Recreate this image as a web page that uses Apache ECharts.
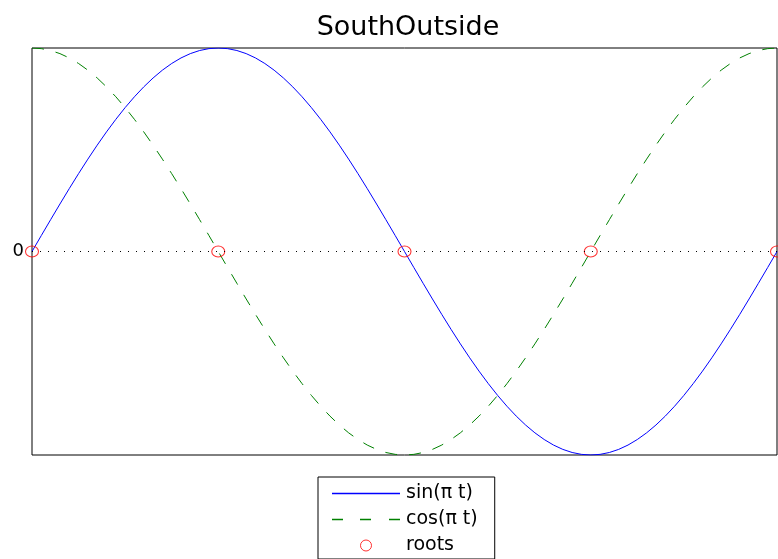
<!DOCTYPE html>
<html>
<head>
<meta charset="utf-8">
<script src="https://cdn.jsdelivr.net/npm/echarts@6/dist/echarts.min.js"></script>
<style>
html,body{margin:0;padding:0;background:#fff;}
#chart{width:778px;height:559px;}
</style>
</head>
<body>
<div id="chart"></div>
<script>
var titleText = 'SouthOutside';
var seriesNames = ['sin(\u03c0 t)', 'cos(\u03c0 t)', 'roots'];

var tVals = [0,0.025,0.05,0.075,0.1,0.125,0.15,0.175,0.2,0.225,0.25,0.275,0.3,0.325,0.35,0.375,0.4,0.425,0.45,0.475,
  0.5,0.525,0.55,0.575,0.6,0.625,0.65,0.675,0.7,0.725,0.75,0.775,0.8,0.825,0.85,0.875,0.9,0.925,0.95,0.975,
  1,1.025,1.05,1.075,1.1,1.125,1.15,1.175,1.2,1.225,1.25,1.275,1.3,1.325,1.35,1.375,1.4,1.425,1.45,1.475,
  1.5,1.525,1.55,1.575,1.6,1.625,1.65,1.675,1.7,1.725,1.75,1.775,1.8,1.825,1.85,1.875,1.9,1.925,1.95,1.975,2];

var sinVals = [0,0.0785,0.1564,0.2334,0.3090,0.3827,0.4540,0.5225,0.5878,0.6494,0.7071,0.7604,0.8090,0.8526,0.8910,0.9239,0.9511,0.9724,0.9877,0.9969,
  1,0.9969,0.9877,0.9724,0.9511,0.9239,0.8910,0.8526,0.8090,0.7604,0.7071,0.6494,0.5878,0.5225,0.4540,0.3827,0.3090,0.2334,0.1564,0.0785,
  0,-0.0785,-0.1564,-0.2334,-0.3090,-0.3827,-0.4540,-0.5225,-0.5878,-0.6494,-0.7071,-0.7604,-0.8090,-0.8526,-0.8910,-0.9239,-0.9511,-0.9724,-0.9877,-0.9969,
  -1,-0.9969,-0.9877,-0.9724,-0.9511,-0.9239,-0.8910,-0.8526,-0.8090,-0.7604,-0.7071,-0.6494,-0.5878,-0.5225,-0.4540,-0.3827,-0.3090,-0.2334,-0.1564,-0.0785,0];

var cosVals = [1,0.9969,0.9877,0.9724,0.9511,0.9239,0.8910,0.8526,0.8090,0.7604,0.7071,0.6494,0.5878,0.5225,0.4540,0.3827,0.3090,0.2334,0.1564,0.0785,
  0,-0.0785,-0.1564,-0.2334,-0.3090,-0.3827,-0.4540,-0.5225,-0.5878,-0.6494,-0.7071,-0.7604,-0.8090,-0.8526,-0.8910,-0.9239,-0.9511,-0.9724,-0.9877,-0.9969,
  -1,-0.9969,-0.9877,-0.9724,-0.9511,-0.9239,-0.8910,-0.8526,-0.8090,-0.7604,-0.7071,-0.6494,-0.5878,-0.5225,-0.4540,-0.3827,-0.3090,-0.2334,-0.1564,-0.0785,
  0,0.0785,0.1564,0.2334,0.3090,0.3827,0.4540,0.5225,0.5878,0.6494,0.7071,0.7604,0.8090,0.8526,0.8910,0.9239,0.9511,0.9724,0.9877,0.9969,1];

var rootT = [0, 0.5, 1, 1.5, 2];
var rootY = [0, 0, 0, 0, 0];

var yTickLabels = ['', '0', ''];

function pairs(xs, ys) { return xs.map(function (x, i) { return [x, ys[i]]; }); }

var SIN_COLOR = '#0000ff', COS_COLOR = '#008000', ROOT_COLOR = '#ff0000';
var COS_DASH = [12, 12];
// legend sample icons (solid and dashed strokes)
var ICON_SOLID = 'path://M0,0h68v1.5h-68z';
var ICON_DASHED = 'path://M0,0h11v1.5h-11z M28,0h11v1.5h-11z M57,0h11v1.5h-11z';

var chart = echarts.init(document.getElementById('chart'), null, { renderer: 'canvas' });
var FONT = 'DejaVu Sans';
chart.setOption({
  animation: false,
  backgroundColor: '#ffffff',
  title: {
    text: titleText,
    left: 403,
    textAlign: 'center',
    top: 9,
    textStyle: { fontFamily: FONT, fontSize: 27, fontWeight: 'normal', color: '#000' }
  },
  grid: {
    left: 32, right: 1, top: 48, bottom: 104,
    show: true, borderColor: '#000', borderWidth: 1, backgroundColor: 'transparent'
  },
  legend: {
    orient: 'vertical',
    left: 318, top: 477,
    padding: [7, 17, 4, 14],
    itemGap: 7,
    itemWidth: 68,
    itemHeight: 11,
    borderColor: '#000', borderWidth: 1,
    backgroundColor: '#fff',
    selectedMode: false,
    data: [
      { name: seriesNames[0], icon: ICON_SOLID, itemStyle: { color: SIN_COLOR, borderWidth: 0, opacity: 1 } },
      { name: seriesNames[1], icon: ICON_DASHED, itemStyle: { color: COS_COLOR, borderWidth: 0, opacity: 1 } },
      { name: seriesNames[2], icon: 'circle', itemStyle: { color: 'rgba(0,0,0,0)', borderColor: ROOT_COLOR, borderWidth: 1 } }
    ],
    textStyle: { fontFamily: FONT, fontSize: 19, color: '#000', padding: [0, 0, 0, 1] }
  },
  xAxis: {
    type: 'value', min: 0, max: 2,
    axisLine: { show: false }, axisTick: { show: false }, axisLabel: { show: false },
    splitLine: { show: false }
  },
  yAxis: {
    type: 'value', min: -1, max: 1, interval: 1,
    axisLine: { show: false }, axisTick: { show: false },
    axisLabel: {
      margin: 8, fontFamily: FONT, fontSize: 18, color: '#000',
      formatter: function (v) { return yTickLabels[Math.round(v) + 1]; }
    },
    splitLine: { show: false }
  },
  series: [
    {
      name: seriesNames[0], type: 'line', data: pairs(tVals, sinVals),
      showSymbol: false, symbol: 'none',
      lineStyle: { color: SIN_COLOR, width: 1 }, itemStyle: { color: SIN_COLOR },
      markLine: {
        silent: true, symbol: 'none', label: { show: false },
        lineStyle: { color: '#000', width: 1, type: [1, 7] },
        data: [{ yAxis: 0 }]
      },
      z: 3
    },
    {
      name: seriesNames[1], type: 'line', data: pairs(tVals, cosVals),
      showSymbol: false, symbol: 'none',
      lineStyle: { color: COS_COLOR, width: 1, type: COS_DASH }, itemStyle: { color: COS_COLOR },
      z: 3
    },
    {
      name: seriesNames[2], type: 'scatter', data: pairs(rootT, rootY),
      symbol: 'circle', symbolSize: [13, 11], clip: false,
      itemStyle: { color: 'rgba(0,0,0,0)', borderColor: ROOT_COLOR, borderWidth: 1 },
      z: 4
    }
  ]
});
</script>
</body>
</html>
